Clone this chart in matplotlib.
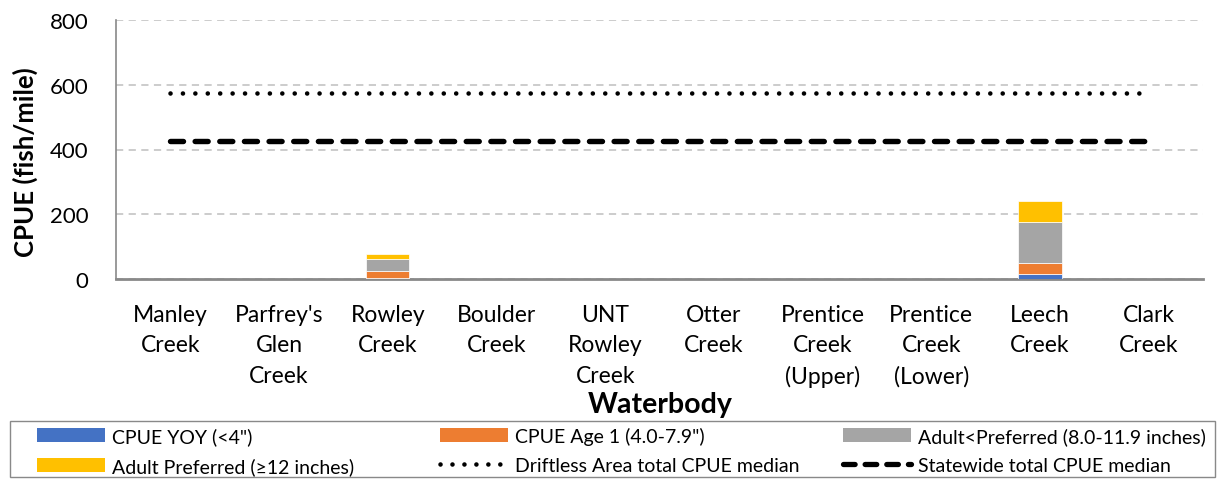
import matplotlib
matplotlib.use("Agg")
from matplotlib import pyplot as plt
from matplotlib.patches import Patch, Rectangle
from matplotlib.lines import Line2D
import numpy as np

plt.rcParams['font.family'] = ['Lato', 'DejaVu Sans']

# data
waterbodies = ["Manley\nCreek", "Parfrey's\nGlen\nCreek", "Rowley\nCreek", "Boulder\nCreek",
               "UNT\nRowley\nCreek", "Otter\nCreek", "Prentice\nCreek\n(Upper)",
               "Prentice\nCreek\n(Lower)", "Leech\nCreek", "Clark\nCreek"]
yoy = [0, 0, 4, 0, 0, 0, 0, 0, 16, 0]
age1 = [0, 0, 20, 0, 0, 0, 0, 0, 33, 0]
adult = [0, 0, 38, 0, 0, 0, 0, 0, 128, 0]
preferred = [0, 0, 16, 0, 0, 0, 0, 0, 65, 0]
driftless_median = [575] * 10
statewide_median = [425] * 10

series_names = ['CPUE YOY (<4")', 'CPUE Age 1 (4.0-7.9")', 'Adult<Preferred (8.0-11.9 inches)',
                'Adult Preferred (≥12 inches)']
colors = ['#4472C4', '#ED7D31', '#A5A5A5', '#FFC000']

W, H = 1222, 481
fig = plt.figure(figsize=(W/100, H/100), dpi=100)
ax = fig.add_axes([116/W, 1 - 280/H, (1203-116)/W, (280-21)/H])

x = np.arange(len(waterbodies))
bottom = np.zeros(len(x))
for vals, c in zip([yoy, age1, adult, preferred], colors):
    ax.bar(x, vals, width=0.4, bottom=bottom, color=c, edgecolor='white', linewidth=0.5, zorder=3)
    bottom += np.array(vals)

dot_style = (0, (0.01, 2.7))
dash_style = (0, (2.4, 2.15))
ax.plot(x, driftless_median, color='black', linestyle=dot_style, linewidth=3.3,
        dash_capstyle='round', zorder=4)
ax.plot(x, statewide_median, color='black', linestyle=dash_style, linewidth=3.9,
        dash_capstyle='round', zorder=4)

ax.set_xlim(-0.5, len(x) - 0.5)
ax.set_ylim(0, 800)
ax.set_yticks([0, 200, 400, 600, 800])
ax.set_xticks(x)
ax.set_xticklabels(waterbodies, fontsize=16.5, linespacing=1.55)
ax.tick_params(axis='x', length=0, pad=18)
ax.tick_params(axis='y', length=0, labelsize=16, pad=20)
ax.yaxis.grid(True, color='#c8c8c8', linestyle=(0, (4, 3)), linewidth=1.3, zorder=0)
for s in ['top', 'right']:
    ax.spines[s].set_visible(False)
ax.spines['left'].set_color('#898989')
ax.spines['bottom'].set_color('#898989')
ax.spines['left'].set_linewidth(1.2)
ax.spines['bottom'].set_linewidth(2)

fig.text(25/W, 1 - 162/H, 'CPUE (fish/mile)', rotation=90, ha='center', va='center',
         fontsize=18.5, fontweight='bold')
fig.text(660/W, 1 - 405/H, 'Waterbody', ha='center', va='center', fontsize=20.5, fontweight='bold')

# legend frame
fig.patches.append(Rectangle((10/W, 1 - 478/H), 1205/W, 56/H, transform=fig.transFigure,
                             facecolor='none', edgecolor='#898989', linewidth=1))

handles = [Patch(facecolor=colors[0]), Patch(facecolor=colors[1]), Patch(facecolor=colors[2]),
           Patch(facecolor=colors[3]),
           Line2D([], [], color='black', linestyle=(0, (0.01, 2.6)), linewidth=3.3, dash_capstyle='round'),
           Line2D([], [], color='black', linestyle=(0, (2.2, 1.9)), linewidth=3.8, dash_capstyle='round')]
labels = series_names + ['Driftless Area total CPUE median', 'Statewide total CPUE median']

col_x = [37, 440, 843]
for i, cx in enumerate(col_x):
    hs = [handles[i], handles[i + 3]]
    ls = [labels[i], labels[i + 3]]
    fig.legend(hs, ls, loc='upper left', bbox_to_anchor=(cx/W, 1 - 428/H),
               fontsize=14, frameon=False, handlelength=3.5, handleheight=0.7,
               handletextpad=0.36, borderpad=0, borderaxespad=0, labelspacing=0.62)

fig.savefig('out.png', dpi=100)
